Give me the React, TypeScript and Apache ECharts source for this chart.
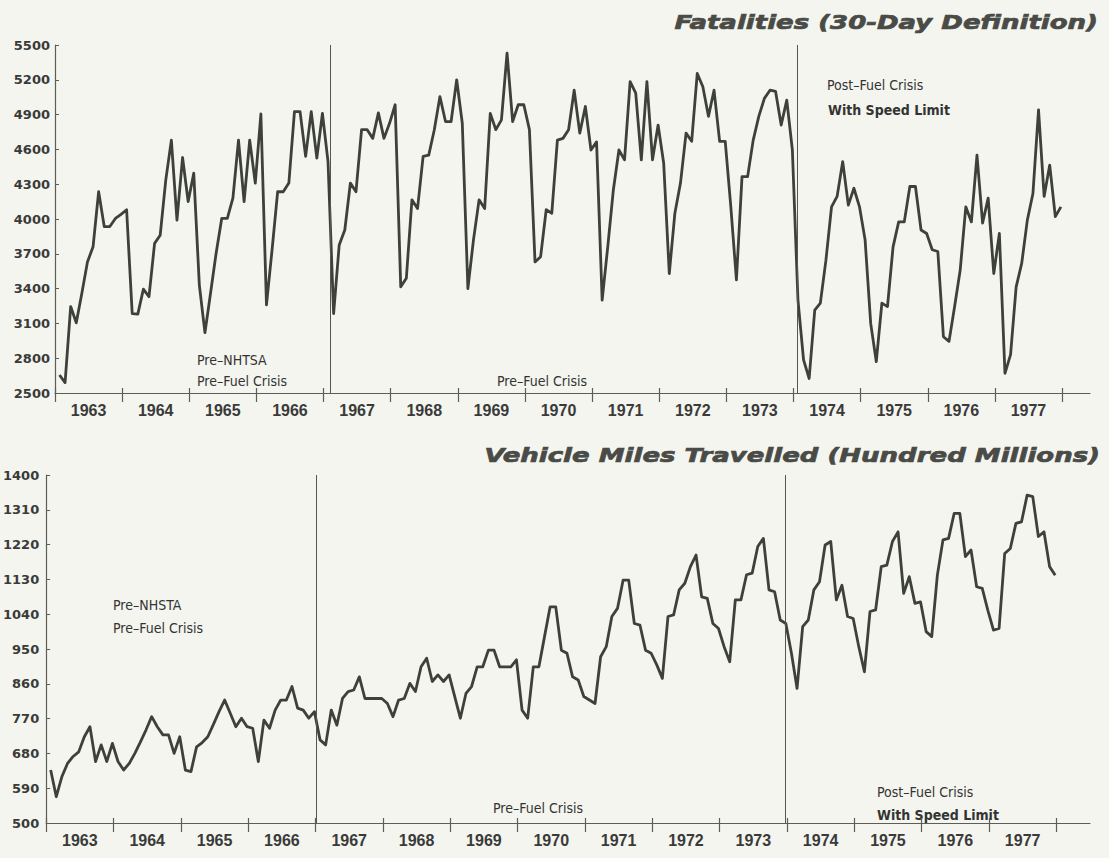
import React, { useEffect, useRef } from "react";
import * as echarts from "echarts";

const YEARS = ["1963", "1964", "1965", "1966", "1967", "1968", "1969", "1970", "1971", "1972", "1973", "1974", "1975", "1976", "1977"];

// Monthly fatalities (30-day definition), Jan 1963 .. Dec 1977
const FATALITIES = [
  2655, 2590, 3245, 3105, 3360, 3630, 3760, 4235, 3935, 3935, 4005, 4040, // 1963
  4080, 3185, 3180, 3395, 3330, 3790, 3860, 4335, 4680, 3990, 4530, 4150, // 1964
  4395, 3430, 3020, 3360, 3705, 4005, 4005, 4180, 4680, 4150, 4680, 4310, // 1965
  4905, 3260, 3735, 4235, 4235, 4310, 4925, 4925, 4540, 4925, 4525, 4910, // 1966
  4495, 3185, 3775, 3905, 4310, 4235, 4770, 4770, 4695, 4915, 4695, 4825, // 1967
  4985, 3415, 3490, 4165, 4090, 4540, 4550, 4770, 5055, 4840, 4840, 5200, // 1968
  4825, 3400, 3820, 4165, 4090, 4910, 4770, 4855, 5430, 4840, 4985, 4985, // 1969
  4770, 3630, 3675, 4080, 4050, 4680, 4695, 4770, 5110, 4740, 4970, 4595, // 1970
  4665, 3300, 3760, 4250, 4595, 4510, 5185, 5085, 4510, 5185, 4510, 4810, // 1971
  4480, 3530, 4050, 4310, 4740, 4670, 5255, 5140, 4885, 5110, 4670, 4670, // 1972
  4105, 3475, 4365, 4365, 4680, 4885, 5040, 5110, 5100, 4810, 5025, 4595, // 1973
  3300, 2785, 2625, 3215, 3275, 3645, 4105, 4195, 4495, 4120, 4265, 4105, // 1974
  3820, 3100, 2770, 3275, 3245, 3760, 3975, 3975, 4280, 4280, 3905, 3875, // 1975
  3735, 3720, 2985, 2945, 3245, 3560, 4105, 3975, 4550, 3965, 4180, 3530, // 1976
  3875, 2670, 2830, 3415, 3620, 3990, 4220, 4940, 4195, 4465, 4020, 4105, // 1977
];

// Monthly vehicle miles travelled (hundred millions), Jan 1963 .. Dec 1977
const VMT = [
  637, 568, 620, 654, 672, 684, 723, 749, 659, 702, 659, 706, // 1963
  659, 637, 654, 680, 710, 741, 775, 749, 728, 728, 680, 723, // 1964
  637, 633, 697, 708, 723, 755, 788, 818, 784, 749, 771, 749, // 1965
  745, 659, 766, 745, 792, 818, 818, 853, 797, 792, 771, 788, // 1966
  715, 702, 792, 753, 822, 840, 844, 878, 822, 822, 822, 822, // 1967
  809, 775, 818, 822, 861, 840, 904, 926, 866, 883, 866, 883, // 1968
  827, 771, 835, 853, 904, 904, 947, 947, 904, 904, 904, 922, // 1969
  792, 771, 904, 904, 982, 1059, 1059, 947, 939, 878, 870, 827, // 1970
  818, 809, 930, 956, 1034, 1055, 1128, 1128, 1016, 1012, 947, 939, // 1971
  909, 874, 1034, 1038, 1103, 1120, 1163, 1193, 1085, 1081, 1016, 1003, // 1972
  956, 917, 1077, 1077, 1142, 1146, 1215, 1236, 1103, 1098, 1025, 1016, // 1973
  939, 848, 1008, 1025, 1103, 1124, 1219, 1228, 1077, 1115, 1034, 1029, // 1974
  956, 891, 1047, 1051, 1163, 1167, 1228, 1253, 1094, 1137, 1068, 1072, // 1975
  995, 982, 1141, 1232, 1236, 1301, 1301, 1189, 1206, 1111, 1107, 1050, // 1976
  999, 1003, 1197, 1210, 1275, 1279, 1348, 1344, 1241, 1253, 1163, 1141, // 1977
];

const FAT_AXIS = { min: 2500, max: 5500, step: 300 };
const VMT_AXIS = { min: 500, max: 1400, step: 90 };

// separators in months from Jan 1963
const FAT_SEPARATORS = [49.2, 132.6];
const VMT_SEPARATORS = [48.2, 131.7];

const TITLES = ["Fatalities (30-Day Definition)", "Vehicle Miles Travelled (Hundred Millions)"];

const INK = "#3e413a";
const BG = "#f3f5ee";
const AXIS = "#5c5e58";

export default function App() {
  const ref = useRef<HTMLDivElement>(null);

  useEffect(() => {
    document.body.style.margin = "0";
    document.body.style.background = BG;
    if (!ref.current) return;
    const chart = echarts.init(ref.current, undefined, { renderer: "svg" });

    const yearTicks = YEARS.map((_, i) => i * 12).concat([YEARS.length * 12]);
    const yearLabels = YEARS.map((_, i) => i * 12 + 6);
    const yearFmt = (v: number) => YEARS[Math.round((v - 6) / 12)] ?? "";

    const toPts = (arr: number[]) => arr.map((v, i) => [i + 0.8, v]);

    const xAxisPair = (gridIndex: number, max: number) => [
      {
        type: "value",
        gridIndex,
        min: 0,
        max,
        position: "bottom",
        splitLine: { show: false },
        axisLine: { show: true, lineStyle: { color: AXIS, width: 1.2 } },
        axisTick: { show: true, customValues: yearTicks, length: 9, lineStyle: { color: AXIS, width: 1.2 } },
        axisLabel: {
          show: true,
          customValues: yearLabels,
          formatter: yearFmt,
          margin: 9,
          fontFamily: "Liberation Sans",
          fontWeight: "bold",
          fontSize: 16,
          color: "#3a3a3a",
        },
      },
      {
        type: "value",
        gridIndex,
        min: 0,
        max,
        position: "bottom",
        splitLine: { show: false },
        axisLine: { show: false },
        axisTick: { show: true, inside: true, customValues: yearTicks, length: 5, lineStyle: { color: AXIS, width: 1.2 } },
        axisLabel: { show: false },
      },
    ];

    const yAxisOf = (gridIndex: number, ax: { min: number; max: number; step: number }, margin: number) => ({
      type: "value",
      gridIndex,
      min: ax.min,
      max: ax.max,
      interval: ax.step,
      splitLine: { show: false },
      axisLine: { show: true, lineStyle: { color: AXIS, width: 1.2 } },
      axisTick: { show: true, inside: true, length: 4, lineStyle: { color: AXIS } },
      axisLabel: {
        margin,
        formatter: (v: number) => String(v),
        fontFamily: "DejaVu Sans",
        fontWeight: "bold",
        fontSize: 13,
        color: "#3a3a3a",
      },
    });

    const sepLine = (xs: number[]) => ({
      symbol: "none",
      silent: true,
      label: { show: false },
      lineStyle: { color: "#55574f", width: 1, type: "solid" },
      data: xs.map((x) => ({ xAxis: x })),
    });

    const annoFont = '14px "DejaVu Sans Condensed", "DejaVu Sans", sans-serif';
    const anno = (text: string, x: number, y: number, bold = false) => ({
      type: "text",
      x,
      y,
      silent: true,
      style: {
        text,
        fill: "#333",
        font: (bold ? "bold " : "") + annoFont,
        verticalAlign: "middle",
        align: "left",
      },
    });

    const title = (text: string, x: number, y: number) => ({
      type: "text",
      x,
      y,
      scaleX: 1.3,
      silent: true,
      style: {
        text,
        fill: "#4a4b47",
        stroke: "#4a4b47",
        lineWidth: 0.7,
        font: 'italic bold 20px "DejaVu Sans", sans-serif',
        align: "right",
        verticalAlign: "middle",
      },
    });

    chart.setOption({
      animation: false,
      backgroundColor: BG,
      grid: [
        { left: 55, right: 19, top: 45, bottom: 465, containLabel: false },
        { left: 45, right: 19, top: 475, bottom: 35, containLabel: false },
      ],
      xAxis: [...xAxisPair(0, 185), ...xAxisPair(1, 186)],
      yAxis: [yAxisOf(0, FAT_AXIS, 5), yAxisOf(1, VMT_AXIS, 7)],
      series: [
        {
          type: "line",
          xAxisIndex: 0,
          yAxisIndex: 0,
          data: toPts(FATALITIES),
          showSymbol: false,
          symbol: "none",
          lineStyle: { color: INK, width: 2.8, join: "round" },
          markLine: sepLine(FAT_SEPARATORS),
        },
        {
          type: "line",
          xAxisIndex: 2,
          yAxisIndex: 1,
          data: toPts(VMT),
          showSymbol: false,
          symbol: "none",
          lineStyle: { color: INK, width: 2.8, join: "round" },
          markLine: sepLine(VMT_SEPARATORS),
        },
      ],
      graphic: [
        title(TITLES[0], 1098, 22),
        title(TITLES[1], 1100, 455),
        anno("Pre–NHTSA", 197, 360),
        anno("Pre–Fuel Crisis", 197, 381),
        anno("Pre–Fuel Crisis", 497, 381),
        anno("Post–Fuel Crisis", 827, 85),
        anno("With Speed Limit", 828, 110, true),
        anno("Pre–NHSTA", 113, 605),
        anno("Pre–Fuel Crisis", 113, 628),
        anno("Pre–Fuel Crisis", 493, 808),
        anno("Post–Fuel Crisis", 877, 792),
        anno("With Speed Limit", 877, 815, true),
      ],
    });

    return () => chart.dispose();
  }, []);

  return <div ref={ref} style={{ width: 1109, height: 858 }} />;
}
